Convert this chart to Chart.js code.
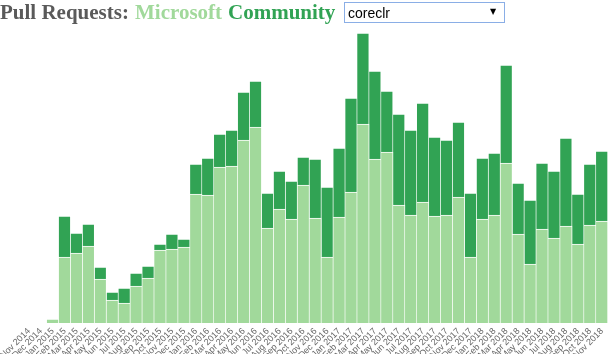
<!doctype html>
<html lang="en">
  <head>
    <meta charset="utf-8">
    <title>Pull Requests</title>
    <style>
      body { margin: 0; background: #fff; overflow: hidden; }
      #header { position: absolute; left: 0; top: 0; z-index: 2; white-space: nowrap;
                font-family: "Liberation Serif", serif; font-weight: bold; font-size: 21px; }
      #header span { position: absolute; top: 0; }
      #idSelect { position: absolute; left: 344px; top: 2px; width: 161px; height: 21px; z-index: 2;
                  font-family: "Liberation Sans", Arial, sans-serif; font-size: 14px; color: #000;
                  border: 1px solid #8aaee6; background: #fff; padding: 0 3px; margin: 0;
                  -webkit-appearance: none; appearance: none; border-radius: 0; }
      #arrow { position: absolute; left: 490px; top: 7px; z-index: 3; font-size: 8px;
               font-family: "DejaVu Sans", sans-serif; color: #000; pointer-events: none; }
      #wrap { position: absolute; left: 0; top: 0; width: 608px; height: 354px; }
    </style>
  </head>
  <body>
    <div id="header">
      <span style="left:0; color:#5a5a5a">Pull&nbsp;Requests:</span>
      <span style="left:135px; color:#a1d99b">Microsoft</span>
      <span style="left:228px; color:#31a354">Community</span>
    </div>
    <select id="idSelect"><option>coreclr</option></select>
    <span id="arrow">▼</span>
    <div id="wrap"><canvas id="prChart"></canvas></div>

    <script src="https://cdn.jsdelivr.net/npm/chart.js"></script>
    <script>
      const months = [
        'Nov 2014', 'Dec 2014',
        'Jan 2015', 'Feb 2015', 'Mar 2015', 'Apr 2015', 'May 2015', 'Jun 2015',
        'Jul 2015', 'Aug 2015', 'Sep 2015', 'Oct 2015', 'Nov 2015', 'Dec 2015',
        'Jan 2016', 'Feb 2016', 'Mar 2016', 'Apr 2016', 'May 2016', 'Jun 2016',
        'Jul 2016', 'Aug 2016', 'Sep 2016', 'Oct 2016', 'Nov 2016', 'Dec 2016',
        'Jan 2017', 'Feb 2017', 'Mar 2017', 'Apr 2017', 'May 2017', 'Jun 2017',
        'Jul 2017', 'Aug 2017', 'Sep 2017', 'Oct 2017', 'Nov 2017', 'Dec 2017',
        'Jan 2018', 'Feb 2018', 'Mar 2018', 'Apr 2018', 'May 2018', 'Jun 2018',
        'Jul 2018', 'Aug 2018', 'Sep 2018', 'Oct 2018', 'Nov 2018'
      ];

      // pull requests opened by Microsoft employees
      const microsoft = [
        0, 0,
        4, 66, 70, 77, 44, 23, 20, 37, 45, 73, 74, 76,
        129, 128, 156, 157, 183, 196, 95, 114, 104, 138, 105, 66,
        106, 131, 199, 164, 171, 118, 108, 121, 107, 108, 126, 66,
        104, 108, 160, 89, 59, 94, 85, 97, 79, 98, 102
      ];

      // pull requests opened by the community
      const community = [
        0, 0,
        0, 41, 20, 22, 12, 8, 15, 13, 12, 6, 15, 8,
        30, 37, 33, 36, 48, 46, 35, 38, 38, 28, 59, 70,
        69, 94, 91, 88, 61, 91, 85, 99, 79, 75, 75, 64,
        61, 62, 98, 51, 64, 66, 67, 88, 50, 61, 70
      ];

      const yMax = 290;

      const barStyle = {
        borderColor: 'rgba(255,255,255,0.6)',
        borderWidth: { top: 1, right: 1, left: 0, bottom: 0 },
        borderSkipped: false,
        barPercentage: 1,
        categoryPercentage: 1
      };

      const prChart = new Chart(document.getElementById('prChart'), {
        type: 'bar',
        data: {
          labels: months,
          datasets: [
            Object.assign({ label: 'Microsoft', data: microsoft, backgroundColor: '#a1d99b' }, barStyle),
            Object.assign({ label: 'Community', data: community, backgroundColor: '#31a354' }, barStyle)
          ]
        },
        options: {
          responsive: true,
          maintainAspectRatio: false,
          animation: false,
          layout: { padding: { top: 33, left: 23, right: 0, bottom: 0 } },
          plugins: { legend: { display: false }, tooltip: { enabled: false } },
          scales: {
            x: {
              stacked: true,
              grid: { display: false, drawTicks: false },
              border: { display: false },
              ticks: {
                autoSkip: false,
                minRotation: 45,
                maxRotation: 45,
                padding: 3,
                color: '#666',
                font: { family: '"Liberation Sans", Arial, sans-serif', size: 9 }
              },
              afterFit: function (scale) {
                scale.height = 31;
                scale.paddingLeft = 0;
                scale.paddingRight = 0;
              }
            },
            y: {
              stacked: true,
              display: false,
              min: 0,
              max: yMax
            }
          }
        }
      });
    </script>
  </body>
</html>
